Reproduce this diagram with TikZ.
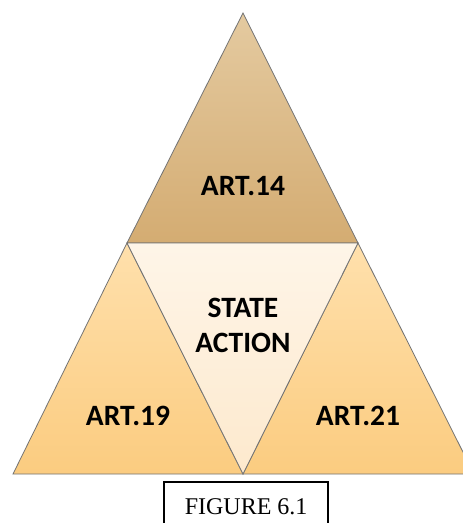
\documentclass[tikz,border=0pt]{standalone}
\usepackage{fontspec}
\setmainfont{Liberation Serif}
\newfontfamily\lblfont{Carlito}
\begin{document}
\begin{tikzpicture}[x=1pt,y=-1pt,
  tri/.style={draw=black!55,line width=0.8pt,line join=miter},
  lbl/.style={font=\lblfont\bfseries\fontsize{29.5}{35}\selectfont,align=center,text=black},
  figbox/.style={draw=black,line width=2.2pt,font=\fontsize{24}{28}\selectfont,minimum width=164pt,minimum height=50pt,anchor=north west,inner sep=0pt}]
\useasboundingbox (0,0) rectangle (463,523);
\clip (0,0) rectangle (463,523);
\fill[white] (0,0) rectangle (463,523);
% outer triangles
\shade[tri,top color={rgb,255:red,228;green,202;blue,160},bottom color={rgb,255:red,212;green,172;blue,114}]
  (243,13) -- (358,243) -- (127,243) -- cycle;
\shade[tri,top color={rgb,255:red,255;green,224;blue,172},bottom color={rgb,255:red,251;green,204;blue,128}]
  (127,243) -- (243,474) -- (13,474) -- cycle;
\shade[tri,top color={rgb,255:red,255;green,224;blue,172},bottom color={rgb,255:red,251;green,204;blue,128}]
  (358,243) -- (474,474) -- (243,474) -- cycle;
\shade[tri,top color={rgb,255:red,254;green,245;blue,232},bottom color={rgb,255:red,253;green,233;blue,205}]
  (127,243) -- (358,243) -- (243,474) -- cycle;
% labels
\node[lbl] (art14) at (243,186) {ART.14};
\node[lbl] (state) at (243,325) {STATE\\ACTION};
\node[lbl] (art19) at (128,416) {ART.19};
\node[lbl] (art21) at (358,416) {ART.21};
\node[figbox] (fig) at (163,481) {FIGURE 6.1};
\end{tikzpicture}
\end{document}
